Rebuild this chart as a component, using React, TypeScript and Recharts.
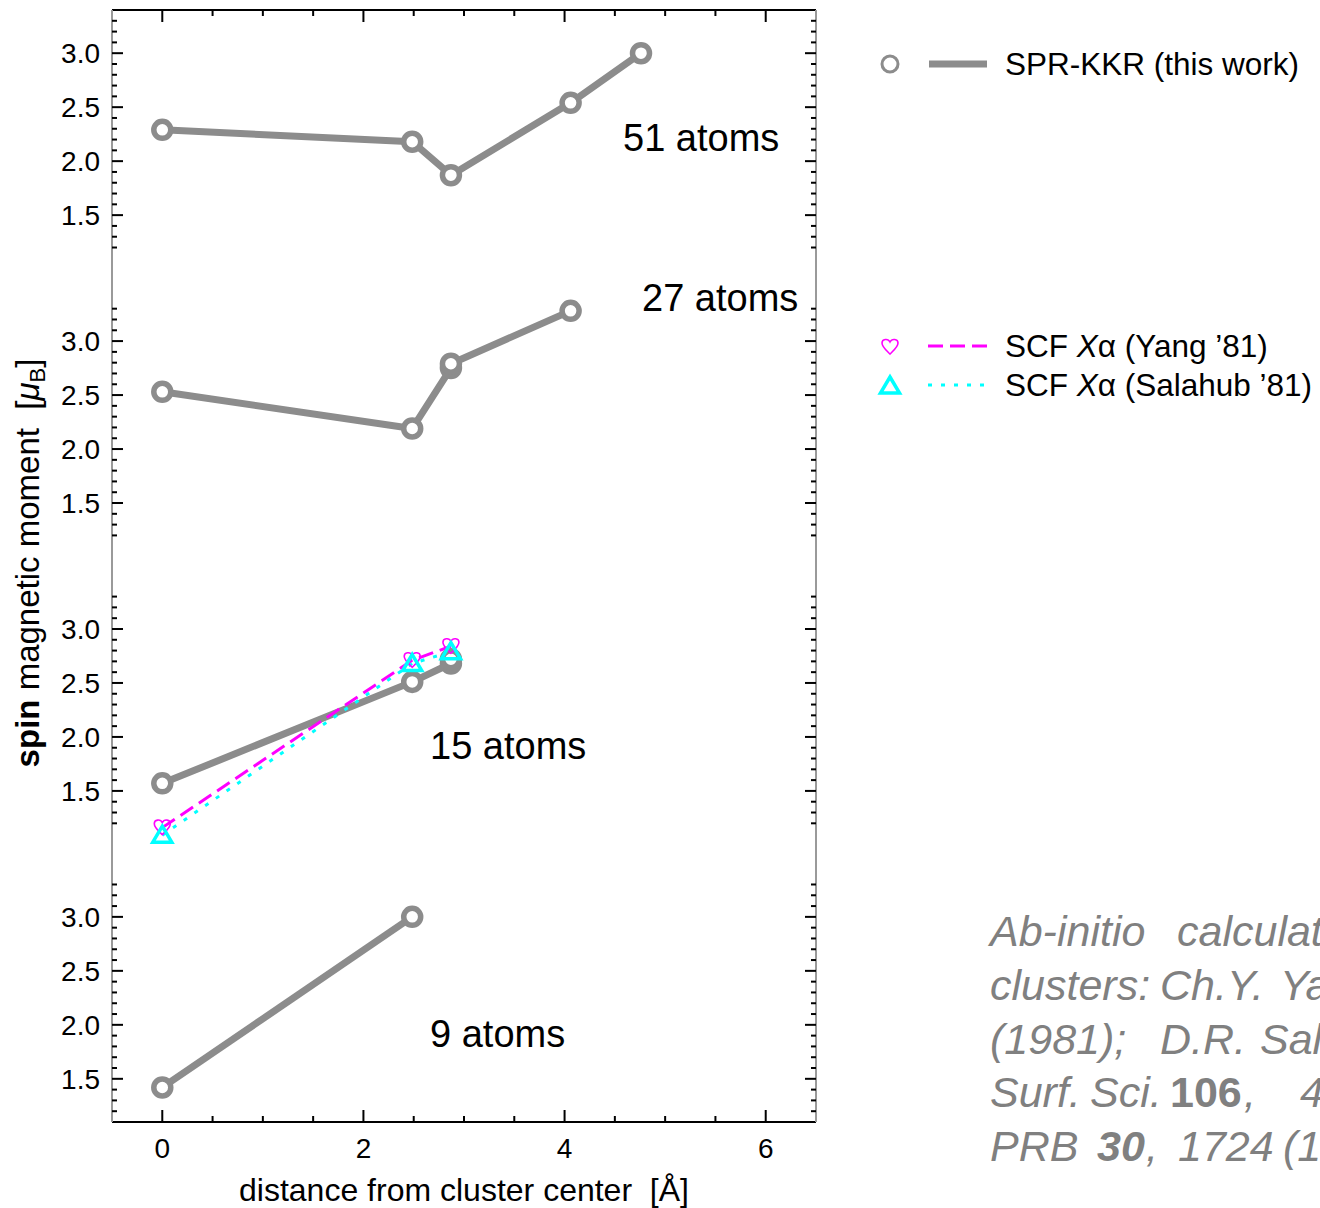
import React from "react";
import { ComposedChart, Line, XAxis, YAxis, ReferenceLine } from "recharts";

const GRAY = "#8c8c8c";
const MAGENTA = "#ff00ff";
const CYAN = "#00ffff";
const NOTE = "#808080";
const FONT = '"Liberation Sans", Arial, Helvetica, sans-serif';

// shell distances in bcc Fe clusters [Å] and spin moments [μB]
const DIST_51 = [0, 2.485, 2.87, 4.06, 4.76];
const KKR_51 = [2.29, 2.18, 1.87, 2.54, 3.0];
const DIST_27 = [0, 2.485, 2.87, 2.87, 4.06];
const KKR_27 = [2.53, 2.19, 2.75, 2.79, 3.28];
const DIST_15 = [0, 2.485, 2.87, 2.87];
const KKR_15 = [1.57, 2.51, 2.68, 2.72];
const DIST_9 = [0, 2.485];
const KKR_9 = [1.42, 3.0];
const XA_DIST_15 = [0, 2.485, 2.87];
const YANG_15 = [1.16, 2.71, 2.84];
const SALAHUB_15 = [1.09, 2.68, 2.79];

const CLUSTER_LABELS = ["9 atoms", "15 atoms", "27 atoms", "51 atoms"]; // bottom -> top

const X_TICKS = [0, 0.5, 1, 1.5, 2, 2.5, 3, 3.5, 4, 4.5, 5, 5.5, 6];
const X_MAJOR = [0, 2, 4, 6];
const Y_MAJOR = [1.5, 2.0, 2.5, 3.0];

// every panel spans 1.1 .. 3.4, panels stacked with this offset
const PANEL_LO = 1.1;
const PANEL_HI = 3.4;
const PANEL_STEP = 8 / 3;
const PANELS = [0, 1, 2, 3];
const Y_DOMAIN = [PANEL_LO, PANEL_HI + 3 * PANEL_STEP];

const Y_TICKS: number[] = [];
PANELS.forEach((p) => {
  for (let j = 12; j <= 33; j++) Y_TICKS.push(j / 10 + p * PANEL_STEP);
});

const rows = (xs: number[], ys: number[], panel: number) =>
  xs.map((x, i) => ({ x, y: ys[i] + panel * PANEL_STEP }));

const localValue = (v: number) => {
  const k = Math.floor((v - 1.0) / PANEL_STEP);
  return Math.round((v - k * PANEL_STEP) * 10) / 10;
};
const isYMajor = (v: number) => Y_MAJOR.some((m) => Math.abs(m - v) < 1e-6);
const isXMajor = (v: number) => X_MAJOR.some((m) => Math.abs(m - v) < 1e-6);

function LeftTick({ x, y, payload }: any) {
  const v = localValue(payload.value);
  const major = isYMajor(v);
  return (
    <g>
      <line x1={x} x2={x + (major ? 11 : 5)} y1={y} y2={y} stroke="#000" strokeWidth={2} />
      {major && (
        <text x={x - 12} y={y} dy="0.36em" textAnchor="end" fontSize={28} fontFamily={FONT} fill="#000">
          {v.toFixed(1)}
        </text>
      )}
    </g>
  );
}

function RightTick({ x, y, payload }: any) {
  const major = isYMajor(localValue(payload.value));
  return <line x1={x} x2={x - (major ? 11 : 5)} y1={y} y2={y} stroke="#000" strokeWidth={2} />;
}

function BottomTick({ x, y, payload }: any) {
  const major = isXMajor(payload.value);
  return (
    <g>
      <line x1={x} x2={x} y1={y} y2={y - (major ? 12 : 6)} stroke="#000" strokeWidth={2} />
      {major && (
        <text x={x} y={y + 36} textAnchor="middle" fontSize={28} fontFamily={FONT} fill="#000">
          {payload.value}
        </text>
      )}
    </g>
  );
}

function TopTick({ x, y, payload }: any) {
  const major = isXMajor(payload.value);
  return <line x1={x} x2={x} y1={y} y2={y + (major ? 12 : 6)} stroke="#000" strokeWidth={2} />;
}

const heartPath = (cx: number, cy: number, s: number) =>
  `M${cx},${cy + 7 * s} C${cx - 3 * s},${cy + 4 * s} ${cx - 8 * s},${cy} ${cx - 8 * s},${cy - 4 * s} ` +
  `C${cx - 8 * s},${cy - 8 * s} ${cx - 2 * s},${cy - 9 * s} ${cx},${cy - 5 * s} ` +
  `C${cx + 2 * s},${cy - 9 * s} ${cx + 8 * s},${cy - 8 * s} ${cx + 8 * s},${cy - 4 * s} ` +
  `C${cx + 8 * s},${cy} ${cx + 3 * s},${cy + 4 * s} ${cx},${cy + 7 * s} Z`;

const trianglePath = (cx: number, cy: number) =>
  `M${cx},${cy - 9} L${cx + 9.5},${cy + 7} L${cx - 9.5},${cy + 7} Z`;

function HeartDot({ cx, cy, index }: any) {
  if (cx == null || cy == null) return <g key={index} />;
  return <path key={index} d={heartPath(cx, cy, 1)} fill="none" stroke={MAGENTA} strokeWidth={1.6} />;
}

function TriangleDot({ cx, cy, index }: any) {
  if (cx == null || cy == null) return <g key={index} />;
  return <path key={index} d={trianglePath(cx, cy)} fill="none" stroke={CYAN} strokeWidth={3.5} />;
}

const kkrDot = { r: 8.5, fill: "#fff", stroke: GRAY, strokeWidth: 5.5 };

const KKR_SERIES = [
  { name: "kkr51", data: rows(DIST_51, KKR_51, 3) },
  { name: "kkr27", data: rows(DIST_27, KKR_27, 2) },
  { name: "kkr15", data: rows(DIST_15, KKR_15, 1) },
  { name: "kkr9", data: rows(DIST_9, KKR_9, 0) },
];

const LABEL_POS = [
  { x: 430, y: 1033 },
  { x: 430, y: 745 },
  { x: 642, y: 297 },
  { x: 623, y: 137 },
];

// justified reference note: words with their start x, per line
const NOTE_LINES: { y: number; words: { x: number; t: string; bold?: boolean }[] }[] = [
  { y: 946, words: [{ x: 990, t: "Ab-initio" }, { x: 1177, t: "calculations" }] },
  { y: 1000, words: [{ x: 990, t: "clusters:" }, { x: 1160, t: "Ch.Y." }, { x: 1280, t: "Yang" }] },
  { y: 1054, words: [{ x: 990, t: "(1981);" }, { x: 1160, t: "D.R." }, { x: 1260, t: "Salahub" }] },
  {
    y: 1107,
    words: [
      { x: 990, t: "Surf." },
      { x: 1090, t: "Sci." },
      { x: 1170, t: "106", bold: true },
      { x: 1244, t: "," },
      { x: 1300, t: "415" },
    ],
  },
  {
    y: 1161,
    words: [
      { x: 990, t: "PRB" },
      { x: 1097, t: "30", bold: true },
      { x: 1146, t: "," },
      { x: 1178, t: "1724" },
      { x: 1283, t: "(1984)" },
    ],
  },
];

function Overlay() {
  const base = (c: number, fs: number) => c + 0.358 * fs;
  return (
    <svg width={1320} height={1208} style={{ position: "absolute", left: 0, top: 0, pointerEvents: "none" }} fontFamily={FONT}>
      {CLUSTER_LABELS.map((t, i) => (
        <text key={t} x={LABEL_POS[i].x} y={base(LABEL_POS[i].y, 38)} fontSize={38} fill="#000">
          {t}
        </text>
      ))}

      <text transform="translate(39,563) rotate(-90)" textAnchor="middle" fontSize={33} fill="#000" style={{ whiteSpace: "pre" }}>
        <tspan fontWeight="bold">spin</tspan>
        <tspan> magnetic moment  [</tspan>
        <tspan fontStyle="italic">μ</tspan>
        <tspan fontSize={22} dy={6}>B</tspan>
        <tspan dy={-6}>]</tspan>
      </text>

      <text x={464} y={1201} textAnchor="middle" fontSize={32} fill="#000" style={{ whiteSpace: "pre" }}>
        {"distance from cluster center  [Å]"}
      </text>

      <circle cx={890} cy={64} r={8} fill="#fff" stroke={GRAY} strokeWidth={3} />
      <line x1={929} x2={987} y1={64} y2={64} stroke={GRAY} strokeWidth={7} />
      <text x={1005} y={base(64, 31.5)} fontSize={31.5} fill="#000">SPR-KKR (this work)</text>

      <path d={heartPath(890, 347, 1)} fill="none" stroke={MAGENTA} strokeWidth={1.6} />
      <line x1={928} x2={987} y1={346} y2={346} stroke={MAGENTA} strokeWidth={3} strokeDasharray="15 7" />
      <text x={1005} y={base(346, 31.5)} fontSize={31.5} fill="#000">
        SCF <tspan fontStyle="italic">X</tspan>α (Yang ’81)
      </text>

      <path d={trianglePath(890, 386)} fill="none" stroke={CYAN} strokeWidth={3.5} />
      <line x1={928} x2={987} y1={385} y2={385} stroke={CYAN} strokeWidth={3} strokeDasharray="4 9" />
      <text x={1005} y={base(385, 31.5)} fontSize={31.5} fill="#000">
        SCF <tspan fontStyle="italic">X</tspan>α (Salahub ’81)
      </text>

      <g fontSize={43} fill={NOTE} fontStyle="italic">
        {NOTE_LINES.map((line, li) =>
          line.words.map((w, wi) => (
            <text key={`${li}-${wi}`} x={w.x} y={line.y} fontWeight={w.bold ? "bold" : "normal"} fontStyle={w.bold && li === 3 ? "normal" : "italic"}>
              {w.t}
            </text>
          ))
        )}
      </g>
    </svg>
  );
}

export default function App() {
  return (
    <div style={{ position: "absolute", left: 0, top: 0, width: 1320, height: 1208, overflow: "hidden", background: "#fff" }}>
      <div style={{ position: "absolute", left: 0, top: 0 }}>
        <ComposedChart width={820} height={1208} margin={{ top: 9, right: 3, bottom: 85, left: 111 }}>
          <XAxis
            xAxisId="b"
            type="number"
            dataKey="x"
            domain={[-0.5, 6.5]}
            allowDataOverflow
            ticks={X_TICKS}
            interval={0}
            height={1}
            tickSize={0}
            tickMargin={0}
            tickLine={false}
            tick={(p: any) => <BottomTick {...p} />}
            axisLine={{ stroke: "#000", strokeWidth: 2 }}
          />
          <XAxis
            xAxisId="t"
            orientation="top"
            type="number"
            dataKey="x"
            domain={[-0.5, 6.5]}
            allowDataOverflow
            ticks={X_TICKS}
            interval={0}
            height={1}
            tickSize={0}
            tickMargin={0}
            tickLine={false}
            tick={(p: any) => <TopTick {...p} />}
            axisLine={{ stroke: "#000", strokeWidth: 2 }}
          />
          <YAxis
            yAxisId="l"
            type="number"
            domain={Y_DOMAIN}
            allowDataOverflow
            ticks={Y_TICKS}
            interval={0}
            width={1}
            tickSize={0}
            tickMargin={0}
            tickLine={false}
            tick={(p: any) => <LeftTick {...p} />}
            axisLine={{ stroke: "#9a9a9a", strokeWidth: 2 }}
          />
          <YAxis
            yAxisId="r"
            orientation="right"
            type="number"
            domain={Y_DOMAIN}
            allowDataOverflow
            ticks={Y_TICKS}
            interval={0}
            width={1}
            tickSize={0}
            tickMargin={0}
            tickLine={false}
            tick={(p: any) => <RightTick {...p} />}
            axisLine={{ stroke: "#9a9a9a", strokeWidth: 2 }}
          />

          {PANELS.map((p) => (
            <ReferenceLine
              key={`l${p}`}
              xAxisId="b"
              yAxisId="l"
              segment={[
                { x: -0.5, y: PANEL_LO + p * PANEL_STEP },
                { x: -0.5, y: PANEL_HI + p * PANEL_STEP },
              ]}
              stroke="#000"
              strokeWidth={2}
            />
          ))}
          {PANELS.map((p) => (
            <ReferenceLine
              key={`r${p}`}
              xAxisId="b"
              yAxisId="l"
              segment={[
                { x: 6.5, y: PANEL_LO + p * PANEL_STEP },
                { x: 6.5, y: PANEL_HI + p * PANEL_STEP },
              ]}
              stroke="#000"
              strokeWidth={2}
            />
          ))}

          {KKR_SERIES.map((s) => (
            <Line
              key={s.name}
              xAxisId="b"
              yAxisId="l"
              data={s.data}
              dataKey="y"
              stroke={GRAY}
              strokeWidth={7}
              strokeLinejoin="round"
              dot={kkrDot}
              activeDot={false}
              isAnimationActive={false}
            />
          ))}
          <Line
            xAxisId="b"
            yAxisId="l"
            data={rows(XA_DIST_15, YANG_15, 1)}
            dataKey="y"
            stroke={MAGENTA}
            strokeWidth={3}
            strokeDasharray="15 7"
            dot={(p: any) => <HeartDot {...p} />}
            activeDot={false}
            isAnimationActive={false}
          />
          <Line
            xAxisId="b"
            yAxisId="l"
            data={rows(XA_DIST_15, SALAHUB_15, 1)}
            dataKey="y"
            stroke={CYAN}
            strokeWidth={3}
            strokeDasharray="4 9"
            dot={(p: any) => <TriangleDot {...p} />}
            activeDot={false}
            isAnimationActive={false}
          />
        </ComposedChart>
      </div>
      <Overlay />
    </div>
  );
}
